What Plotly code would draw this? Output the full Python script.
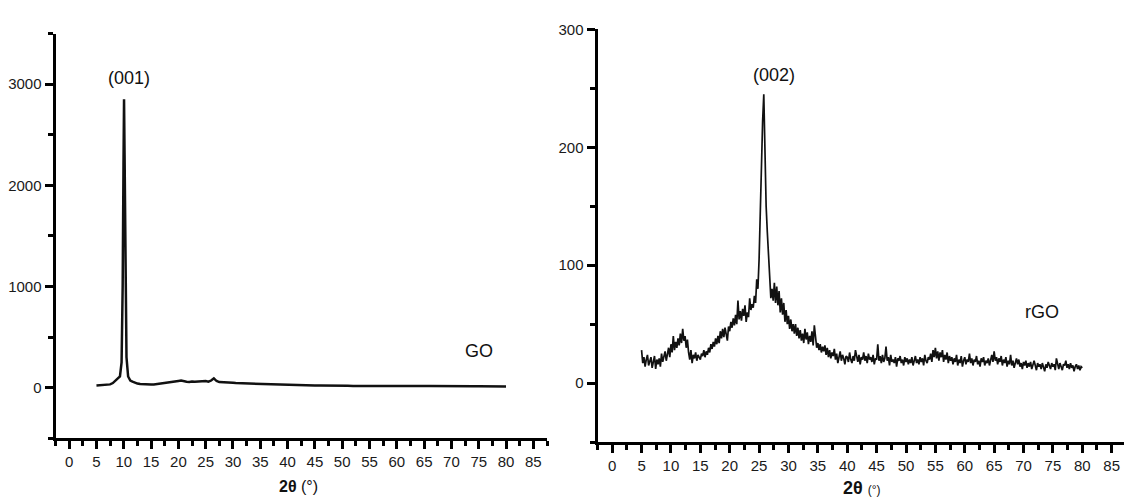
import plotly.graph_objects as go

W, H = 1124, 504

# ---------------- GO data (left panel) ----------------
go_two_theta = [5, 5.5, 6, 6.5, 7, 7.5, 8, 8.5, 9, 9.3, 9.6, 9.8, 9.95, 10.05, 10.15, 10.3, 10.5, 10.8,
                11.2, 11.6, 12, 12.5, 13, 13.5, 14, 14.5, 15, 15.5, 16, 16.5, 17, 17.5, 18, 18.5, 19, 19.5,
                20, 20.5, 21, 21.5, 22, 22.5, 23, 23.5, 24, 24.5, 25, 25.5, 26, 26.5, 27, 27.5, 28, 28.5,
                29, 29.5, 30, 30.5, 31, 31.5, 32, 32.5, 33, 33.5, 34, 34.5, 35, 35.5, 36, 36.5, 37, 37.5,
                38, 38.5, 39, 39.5, 40, 41, 42, 43, 44, 45, 46, 47, 48, 49, 50, 51, 52, 53, 54, 55, 56, 57,
                58, 59, 60, 61, 62, 63, 64, 65, 66, 67, 68, 69, 70, 71, 72, 73, 74, 75, 76, 77, 78, 79, 80]
go_intensity = [22, 24, 21, 25, 27, 32, 45, 70, 90, 110, 250, 1000, 2200, 2850, 2300, 1100, 300, 110,
                70, 60, 48, 40, 35, 32, 30, 28, 30, 32, 35, 38, 42, 45, 50, 52, 56, 60,
                66, 70, 62, 58, 55, 60, 57, 58, 60, 62, 65, 58, 70, 92, 65, 55, 52, 50,
                48, 46, 47, 45, 44, 42, 43, 40, 41, 38, 36, 35, 36, 38, 32, 30, 29, 28,
                27, 26, 25, 25, 24, 23, 22, 21, 22, 20, 21, 19, 20, 18, 19, 18, 17, 18, 17, 18, 17, 16,
                17, 16, 17, 16, 15, 16, 15, 16, 15, 14, 15, 14, 15, 14, 13, 14, 13, 14, 13, 12, 13, 12, 12]

# ---------------- rGO data (right panel), sampled every 0.2 deg from 5 to 80 ----------------
rgo_start, rgo_step = 5.0, 0.2
rgo_intensity = [
    28, 17, 22, 14, 20,   24, 15, 19, 22, 13,   18, 23, 12, 20, 16,   21, 14, 25, 18, 22,   # 5-8
    27, 19, 24, 30, 22,   33, 26, 40, 28, 35,   30, 38, 32, 42, 34,   46, 36, 40, 30, 37,   # 9-12
    26, 20, 28, 17, 24,   21, 26, 19, 24, 22,   20, 25, 23, 28, 22,   27, 24, 30, 26, 33,   # 13-16
    29, 35, 31, 38, 33,   40, 34, 44, 38, 46,   39, 47, 42, 36, 48,   44, 52, 47, 55, 49,   # 17-20
    58, 50, 70, 54, 61,   53, 63, 57, 66, 52,   60, 56, 72, 62, 67,   64, 74, 68, 88, 80,   # 21-24
    105, 150, 200, 222, 245,   178, 150, 128, 110, 98,   72, 80, 70, 85, 68,   82, 66, 78, 60, 72,  # 25-28
    58, 68, 52, 62, 50,   57, 46, 54, 44, 50,   42, 50, 40, 47, 38,   45, 36, 42, 34, 46,   # 29-32
    37, 43, 33, 40, 35,   44, 32, 49, 36, 30,   34, 28, 33, 26, 31,   27, 32, 24, 30, 22,   # 33-36
    28, 21, 26, 23, 29,   20, 25, 17, 22, 27,   19, 24, 21, 16, 23,   22, 18, 26, 20, 17,   # 37-40
    23, 19, 28, 21, 18,   24, 16, 22, 20, 26,   19, 23, 17, 25, 20,   22, 18, 24, 16, 21,   # 41-44
    20, 33, 19, 23, 17,   24, 18, 21, 31, 19,   22, 15, 24, 18, 20,   17, 22, 14, 21, 19,   # 45-48
    23, 17, 20, 15, 22,   18, 21, 16, 20, 17,   22, 15, 19, 23, 17,   20, 16, 22, 18, 21,   # 49-52
    15, 24, 19, 17, 22,   20, 25, 18, 28, 22,   30, 21, 27, 19, 26,   22, 28, 18, 24, 20,   # 53-56
    26, 17, 23, 19, 22,   16, 21, 18, 24, 15,   20, 17, 23, 14, 19,   22, 16, 20, 18, 25,   # 57-60
    17, 21, 15, 20, 18,   23, 16, 19, 14, 21,   18, 22, 15, 19, 17,   21, 15, 20, 24, 18,   # 61-64
    27, 19, 22, 16, 21,   18, 23, 15, 20, 17,   22, 14, 19, 16, 24,   15, 19, 13, 18, 21,   # 65-68
    16, 20, 14, 17, 12,   18, 15, 19, 13, 17,   14, 18, 12, 16, 19,   15, 11, 17, 14, 16,   # 69-72
    12, 17, 14, 10, 16,   13, 18, 15, 12, 17,   14, 16, 11, 21, 15,   12, 17, 14, 11, 16,   # 73-76
    15, 19, 13, 16, 12,   17, 13, 15, 10, 14,   16, 12, 15, 11, 14,   13                     # 77-80
]
rgo_two_theta = [round(rgo_start + i * rgo_step, 2) for i in range(len(rgo_intensity))]

# ---------------- axis tick settings ----------------
x_ticks = [0, 5, 10, 15, 20, 25, 30, 35, 40, 45, 50, 55, 60, 65, 70, 75, 80, 85]
go_y_ticks = [0, 1000, 2000, 3000]
rgo_y_ticks = [0, 100, 200, 300]

FONT = "Arial, Liberation Sans, Helvetica, sans-serif"


def px_x(p):
    return p / W


def px_y(p):
    return 1 - p / H


fig = go.Figure()
fig.add_trace(go.Scatter(x=go_two_theta, y=go_intensity, mode="lines",
                         line=dict(color="#111111", width=2.5), xaxis="x", yaxis="y"))
fig.add_trace(go.Scatter(x=rgo_two_theta, y=rgo_intensity, mode="lines",
                         line=dict(color="#111111", width=1.7), xaxis="x2", yaxis="y2"))

axis_common = dict(showline=True, linecolor="black", linewidth=3, showgrid=False, zeroline=False,
                   ticks="outside", ticklen=8, tickwidth=2.5, tickcolor="black",
                   tickfont=dict(family=FONT, size=15, color="#1a1a1a"))
minor_common = dict(ticks="outside", ticklen=5, tickwidth=2.5, tickcolor="black")

fig.update_layout(
    width=W, height=H, margin=dict(l=0, r=0, t=0, b=0),
    paper_bgcolor="white", plot_bgcolor="white", showlegend=False,
    xaxis=dict(domain=[px_x(55.5), px_x(547)], range=[-2.5, 87.5], tickvals=x_ticks,
               minor=dict(dtick=2.5, tick0=0, **minor_common),
               anchor="y", **axis_common),
    yaxis=dict(domain=[px_y(437), px_y(25)], range=[-500, 3500], tickvals=go_y_ticks,
               minor=dict(dtick=500, tick0=0, **minor_common),
               anchor="x", **axis_common),
    xaxis2=dict(domain=[px_x(597.5), 1.0], range=[-2.5, 87.1], tickvals=x_ticks,
                minor=dict(dtick=2.5, tick0=0, **minor_common),
                anchor="y2", **axis_common),
    yaxis2=dict(domain=[px_y(441), px_y(20.7)], range=[-50, 300], tickvals=rgo_y_ticks,
                minor=dict(dtick=50, tick0=0, **minor_common),
                anchor="x2", **axis_common),
)

labels = [
    ("(001)", 129, 70, 18),
    ("GO", 479, 348, 18),
    ("(002)", 774, 67, 18),
    ("rGO", 1042, 308, 18),
    ("<b>2θ</b> (°)", 298, 486, 16),
    ("<b>2θ</b> <span style='font-size:12px'>(°)</span>", 862, 488, 18),
]
for text, x, y, size in labels:
    fig.add_annotation(text=text, x=px_x(x), y=px_y(y), xref="paper", yref="paper",
                       xanchor="center", yanchor="middle", showarrow=False,
                       font=dict(family=FONT, size=size, color="#111111"))

fig.write_html("out.html")
